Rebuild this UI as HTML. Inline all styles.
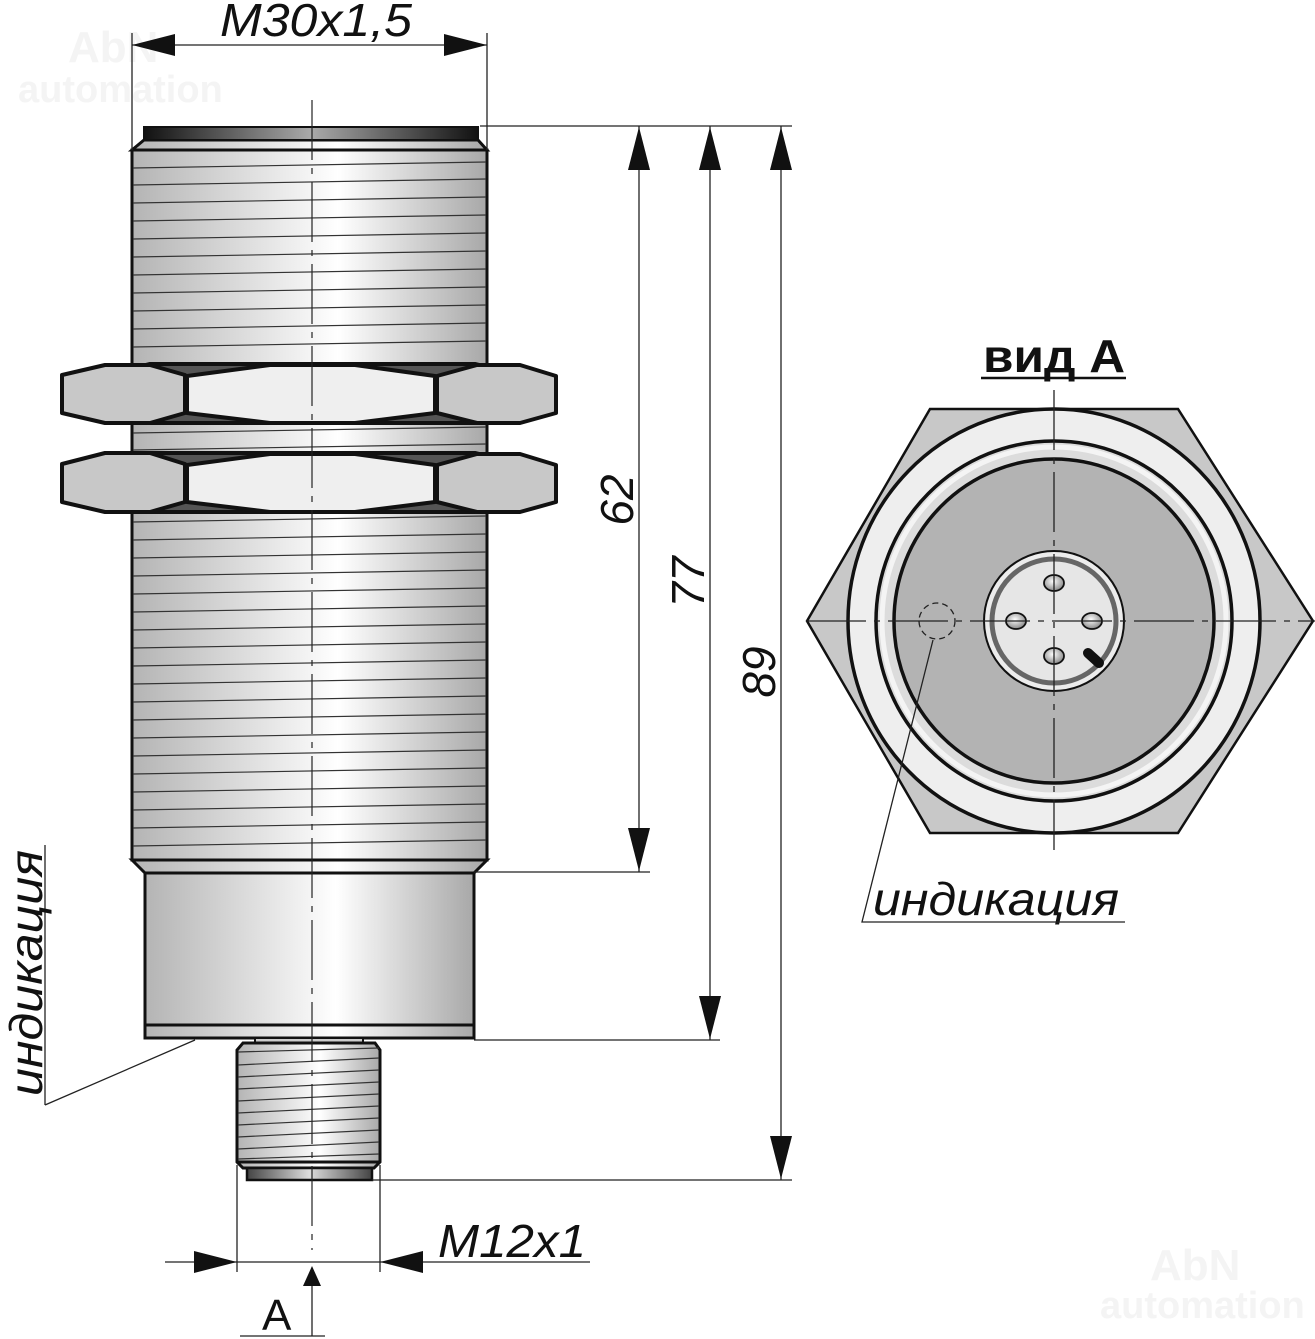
<!DOCTYPE html>
<html><head><meta charset="utf-8"><style>
html,body{margin:0;padding:0;background:#fff}
svg{display:block}
text{font-family:"Liberation Sans",sans-serif}
</style></head><body>
<svg width="1315" height="1339" viewBox="0 0 1315 1339" xmlns="http://www.w3.org/2000/svg">
<defs>
<linearGradient id="g" x1="0" x2="1" y1="0" y2="0">
<stop offset="0" stop-color="#b4b4b4"/><stop offset="0.5" stop-color="#f4f4f4"/><stop offset="0.58" stop-color="#fff"/><stop offset="1" stop-color="#a8a8a8"/>
</linearGradient>
<linearGradient id="cap" x1="0" x2="1">
<stop offset="0" stop-color="#111"/><stop offset="0.5" stop-color="#aaa"/><stop offset="1" stop-color="#111"/>
</linearGradient>
<linearGradient id="cap2" x1="0" x2="1">
<stop offset="0" stop-color="#444"/><stop offset="0.5" stop-color="#ddd"/><stop offset="1" stop-color="#444"/>
</linearGradient>
<radialGradient id="pin" cx="0.45" cy="0.4" r="0.6"><stop offset="0" stop-color="#fff"/><stop offset="1" stop-color="#888"/></radialGradient>
</defs>

<g fill="#f4f4f4" font-weight="bold">
<text x="68" y="62" font-size="44">AbN</text>
<text x="18" y="102" font-size="38">automation</text>
<text x="1150" y="1280" font-size="44">AbN</text>
<text x="1100" y="1318" font-size="38">automation</text>
</g>

<rect x="132" y="150" width="355" height="710" fill="url(#g)" stroke="#111" stroke-width="3"/>
<g stroke="#333" stroke-width="1.2">
<line x1="133" y1="168" x2="486" y2="162"/><line x1="133" y1="185" x2="486" y2="179"/><line x1="133" y1="203" x2="486" y2="197"/><line x1="133" y1="221" x2="486" y2="215"/><line x1="133" y1="239" x2="486" y2="233"/><line x1="133" y1="257" x2="486" y2="251"/><line x1="133" y1="275" x2="486" y2="269"/><line x1="133" y1="293" x2="486" y2="287"/><line x1="133" y1="311" x2="486" y2="305"/><line x1="133" y1="329" x2="486" y2="323"/><line x1="133" y1="347" x2="486" y2="341"/>
<line x1="133" y1="433" x2="486" y2="427"/><line x1="133" y1="450" x2="486" y2="444"/>
<line x1="133" y1="522" x2="486" y2="516"/><line x1="133" y1="540" x2="486" y2="534"/><line x1="133" y1="558" x2="486" y2="552"/><line x1="133" y1="576" x2="486" y2="570"/><line x1="133" y1="594" x2="486" y2="588"/><line x1="133" y1="612" x2="486" y2="606"/><line x1="133" y1="630" x2="486" y2="624"/><line x1="133" y1="648" x2="486" y2="642"/><line x1="133" y1="666" x2="486" y2="660"/><line x1="133" y1="684" x2="486" y2="678"/><line x1="133" y1="702" x2="486" y2="696"/><line x1="133" y1="720" x2="486" y2="714"/><line x1="133" y1="738" x2="486" y2="732"/><line x1="133" y1="756" x2="486" y2="750"/><line x1="133" y1="774" x2="486" y2="768"/><line x1="133" y1="792" x2="486" y2="786"/><line x1="133" y1="810" x2="486" y2="804"/><line x1="133" y1="828" x2="486" y2="822"/><line x1="133" y1="846" x2="486" y2="840"/>
</g>
<polygon points="132,150 144,140 478,140 487,150" fill="url(#g)" stroke="#111" stroke-width="3"/>
<rect x="144" y="127" width="334" height="13" fill="url(#cap)" stroke="#111" stroke-width="2"/>
<polygon points="132,860 145,873 474,873 487,860" fill="url(#g)" stroke="#111" stroke-width="3"/>
<rect x="145" y="873" width="329" height="165" fill="url(#g)" stroke="#111" stroke-width="3"/>
<line x1="145" y1="1025" x2="474" y2="1025" stroke="#111" stroke-width="3"/>

<g stroke="#111" stroke-width="4" stroke-linejoin="round">
<polygon points="150,364 475,364 520,375 520,413 475,423 150,423 105,413 105,375" fill="#555"/>
<polygon points="62,375 105,365 150,365 185,375 185,413 150,423 105,423 62,413" fill="#c8c8c8"/>
<polygon points="187,376 270,365 355,365 435,376 435,413 355,423 270,423 187,413" fill="#efefef"/>
<polygon points="437,376 477,365 520,365 556,376 556,413 520,423 477,423 437,413" fill="#c8c8c8"/>
<polygon points="150,453 475,453 520,464 520,502 475,512 150,512 105,502 105,464" fill="#555"/>
<polygon points="62,464 105,453 150,453 185,464 185,502 150,512 105,512 62,502" fill="#c8c8c8"/>
<polygon points="187,465 270,454 355,454 435,465 435,502 355,512 270,512 187,502" fill="#efefef"/>
<polygon points="437,465 477,454 520,454 556,465 556,502 520,512 477,512 437,502" fill="#c8c8c8"/>
</g>

<rect x="255" y="1038" width="108" height="5" fill="#ccc" stroke="#111" stroke-width="2"/>
<polygon points="243,1043 375,1043 380,1050 380,1162 374,1168 243,1168 237,1162 237,1050" fill="url(#g)" stroke="#111" stroke-width="3"/>
<g stroke="#333" stroke-width="1.2">
<line x1="238" y1="1052" x2="379" y2="1048"/><line x1="238" y1="1065" x2="379" y2="1058"/><line x1="238" y1="1077" x2="379" y2="1070"/><line x1="238" y1="1089" x2="379" y2="1082"/><line x1="238" y1="1101" x2="379" y2="1094"/><line x1="238" y1="1113" x2="379" y2="1106"/><line x1="238" y1="1125" x2="379" y2="1118"/><line x1="238" y1="1137" x2="379" y2="1130"/><line x1="238" y1="1149" x2="379" y2="1142"/><line x1="238" y1="1159" x2="379" y2="1154"/>
</g>
<line x1="237" y1="1162" x2="380" y2="1162" stroke="#111" stroke-width="3"/>
<rect x="247" y="1168" width="125" height="12" fill="url(#cap2)" stroke="#111" stroke-width="2.5"/>

<line x1="312" y1="100" x2="312" y2="1250" stroke="#222" stroke-width="1.2" stroke-dasharray="60,8,6,8"/>

<g stroke="#222" stroke-width="1.3" fill="none">
<line x1="132" y1="33" x2="132" y2="150"/><line x1="487" y1="33" x2="487" y2="150"/>
<line x1="132" y1="45" x2="487" y2="45"/>
<line x1="480" y1="126" x2="792" y2="126"/>
<line x1="474" y1="872" x2="650" y2="872"/>
<line x1="474" y1="1040" x2="720" y2="1040"/>
<line x1="372" y1="1180" x2="792" y2="1180"/>
<line x1="639" y1="126" x2="639" y2="872"/>
<line x1="710" y1="126" x2="710" y2="1040"/>
<line x1="781" y1="126" x2="781" y2="1180"/>
<line x1="237" y1="1165" x2="237" y2="1272"/><line x1="380" y1="1165" x2="380" y2="1272"/>
<line x1="165" y1="1262" x2="590" y2="1262"/>
<line x1="312" y1="1268" x2="312" y2="1336"/>
<line x1="240" y1="1336" x2="325" y2="1336"/>
<line x1="195" y1="1040" x2="45" y2="1105"/><line x1="45" y1="1105" x2="45" y2="845"/>
</g>
<g fill="#111">
<polygon points="132,45 175,34 175,56"/><polygon points="487,45 444,34 444,56"/>
<polygon points="639,127 628,170 650,170"/><polygon points="639,871 628,828 650,828"/>
<polygon points="710,127 699,170 721,170"/><polygon points="710,1039 699,996 721,996"/>
<polygon points="781,127 770,170 792,170"/><polygon points="781,1179 770,1136 792,1136"/>
<polygon points="237,1262 194,1251 194,1273"/><polygon points="380,1262 423,1251 423,1273"/>
<polygon points="312,1266 303,1286 321,1286"/>
</g>

<g font-style="italic" font-size="46" fill="#111">
<text x="220" y="36" textLength="192" lengthAdjust="spacingAndGlyphs">M30x1,5</text>
<text x="438" y="1257" textLength="148" lengthAdjust="spacingAndGlyphs">M12x1</text>
<text transform="translate(633,500) rotate(-90)" text-anchor="middle">62</text>
<text transform="translate(704,582) rotate(-90)" text-anchor="middle">77</text>
<text transform="translate(775,672) rotate(-90)" text-anchor="middle">89</text>
<text transform="translate(42,1096) rotate(-90)" font-size="46" textLength="246" lengthAdjust="spacingAndGlyphs">индикация</text>
<text x="873" y="915" font-size="46" textLength="246" lengthAdjust="spacingAndGlyphs">индикация</text>
</g>
<text x="262" y="1330" font-size="44" fill="#111">A</text>

<text x="983" y="372" font-size="46" font-weight="bold" fill="#111" textLength="142" lengthAdjust="spacingAndGlyphs">вид A</text>
<line x1="981" y1="378" x2="1126" y2="378" stroke="#111" stroke-width="2.5"/>
<polygon points="930,409 1178,409 1313,621 1178,833 930,833 807,621" fill="#c8c8c8" stroke="#111" stroke-width="2.5"/>
<ellipse cx="1054" cy="621" rx="206" ry="212" fill="#eeeeee" stroke="#111" stroke-width="3.5"/>
<ellipse cx="1054" cy="621" rx="178" ry="180" fill="#dcdcdc" stroke="#111" stroke-width="3.5"/>
<ellipse cx="1054" cy="621" rx="172" ry="174" fill="none" stroke="#f4f4f4" stroke-width="5"/>
<ellipse cx="1054" cy="621" rx="160" ry="162" fill="#b3b3b3" stroke="#111" stroke-width="3.5"/>
<circle cx="1054" cy="621" r="70" fill="#ececec" stroke="#111" stroke-width="2"/>
<circle cx="1054" cy="621" r="62" fill="#e6e6e6" stroke="#666" stroke-width="5"/>
<g stroke="#111" stroke-width="1.8" fill="url(#pin)">
<ellipse cx="1054" cy="583" rx="10" ry="8"/><ellipse cx="1016" cy="621" rx="10" ry="8"/><ellipse cx="1092" cy="621" rx="10" ry="8"/><ellipse cx="1054" cy="656" rx="10" ry="8"/>
</g>
<line x1="1088" y1="653" x2="1099" y2="663" stroke="#111" stroke-width="10" stroke-linecap="round"/>
<g stroke="#222" stroke-width="1.3" fill="none">
<line x1="1054" y1="390" x2="1054" y2="850" stroke-dasharray="60,8,6,8"/>
<line x1="806" y1="621" x2="1315" y2="621" stroke-dasharray="60,8,6,8"/>
<circle cx="937" cy="621" r="18" stroke-dasharray="6,4"/>
<polyline points="933,640 862,922 1125,922"/>
</g>
</svg>
</body></html>
